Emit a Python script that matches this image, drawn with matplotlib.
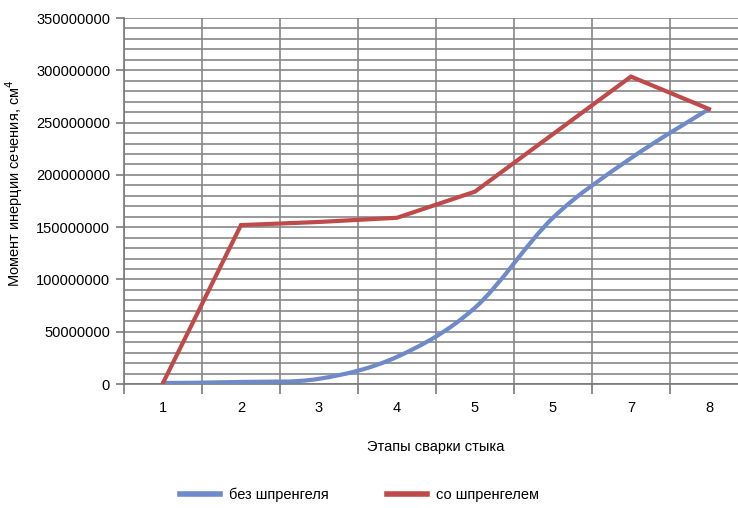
import numpy as np
import matplotlib.pyplot as plt
from matplotlib.path import Path
from matplotlib.patches import PathPatch
from matplotlib.lines import Line2D
from matplotlib.ticker import MultipleLocator, FixedLocator, NullFormatter

plt.rcParams['font.family'] = ['Liberation Sans', 'DejaVu Sans']

# этапы сварки (подписи как на оси)
stages = ['1', '2', '3', '4', '5', '5', '7', '8']
bez_shprengelya = [1.0e6, 2.0e6, 5.0e6, 26.0e6, 73.0e6, 159.0e6, 216.0e6, 263.0e6]
so_shprengelem = [1.0e6, 152.0e6, 155.0e6, 159.0e6, 184.0e6, 239.0e6, 294.0e6, 263.0e6]

blue = '#6E8AC8'
red = '#BE4B4A'
grid_c = '#878787'
fs = 10.5


def smooth_path(x, y, t=1 / 6):
    # сглаженная линия как в Excel: кривые Безье по точкам (Catmull-Rom)
    pts = np.column_stack([x, y])
    n = len(pts)
    verts = [pts[0]]
    codes = [Path.MOVETO]
    for i in range(n - 1):
        p0 = pts[i - 1] if i > 0 else pts[i]
        p1 = pts[i]
        p2 = pts[i + 1]
        p3 = pts[i + 2] if i + 2 < n else pts[i + 1]
        c1 = p1 + (p2 - p0) * t
        c2 = p2 - (p3 - p1) * t
        verts += [c1, c2, p2]
        codes += [Path.CURVE4] * 3
    return Path(verts, codes)


fig = plt.figure(figsize=(7.38, 5.08), dpi=100)
ax = fig.add_axes([0.168, 0.244, 0.8455, 0.7205])

xs = np.arange(1, len(stages) + 1)

ax.add_patch(PathPatch(smooth_path(xs, bez_shprengelya), fill=False, edgecolor=blue,
                       lw=3.0, capstyle='round', joinstyle='round', zorder=3))
ax.plot(xs, so_shprengelem, color=red, lw=3.0, solid_joinstyle='miter', zorder=3)

ax.set_xlim(0.5, 8.5)
ax.set_ylim(0, 350e6)

ax.yaxis.set_major_locator(MultipleLocator(50e6))
ax.yaxis.set_minor_locator(MultipleLocator(10e6))
ax.yaxis.set_major_formatter(plt.FuncFormatter(lambda v, p: '%d' % v))

ax.xaxis.set_major_locator(FixedLocator(xs))
ax.xaxis.set_major_formatter(plt.FixedFormatter(stages))
ax.xaxis.set_minor_locator(FixedLocator(np.arange(0.5, 9, 1)))
ax.xaxis.set_minor_formatter(NullFormatter())

ax.grid(True, which='both', axis='y', color=grid_c, lw=1.2)
ax.grid(True, which='minor', axis='x', color=grid_c, lw=1.2)
ax.set_axisbelow(True)

for s in ['top', 'right']:
    ax.spines[s].set_visible(False)
for s in ['left', 'bottom']:
    ax.spines[s].set_color('#7a7a7a')
    ax.spines[s].set_linewidth(1.2)

ax.tick_params(axis='y', which='major', length=6, color='#7a7a7a', width=1.2,
               labelsize=fs, pad=4)
ax.tick_params(axis='y', which='minor', length=0)
ax.tick_params(axis='x', which='major', length=0, labelsize=fs, pad=12)
ax.tick_params(axis='x', which='minor', length=7, color='#7a7a7a', width=1.2)

ax.set_ylabel('Момент инерции сечения, см$^4$', fontsize=fs)
ax.yaxis.set_label_coords(-0.159, 0.549)
ax.set_xlabel('Этапы сварки стыка', fontsize=fs, labelpad=18)

handles = [Line2D([], [], color=blue, lw=4), Line2D([], [], color=red, lw=4)]
fig.legend(handles, ['без шпренгеля', 'со шпренгелем'], loc='center',
           bbox_to_anchor=(0.487, 0.026), ncol=2, frameon=False, fontsize=fs,
           handlelength=2.75, columnspacing=4.0, handletextpad=0.6)

fig.savefig('out.png', dpi=100)
